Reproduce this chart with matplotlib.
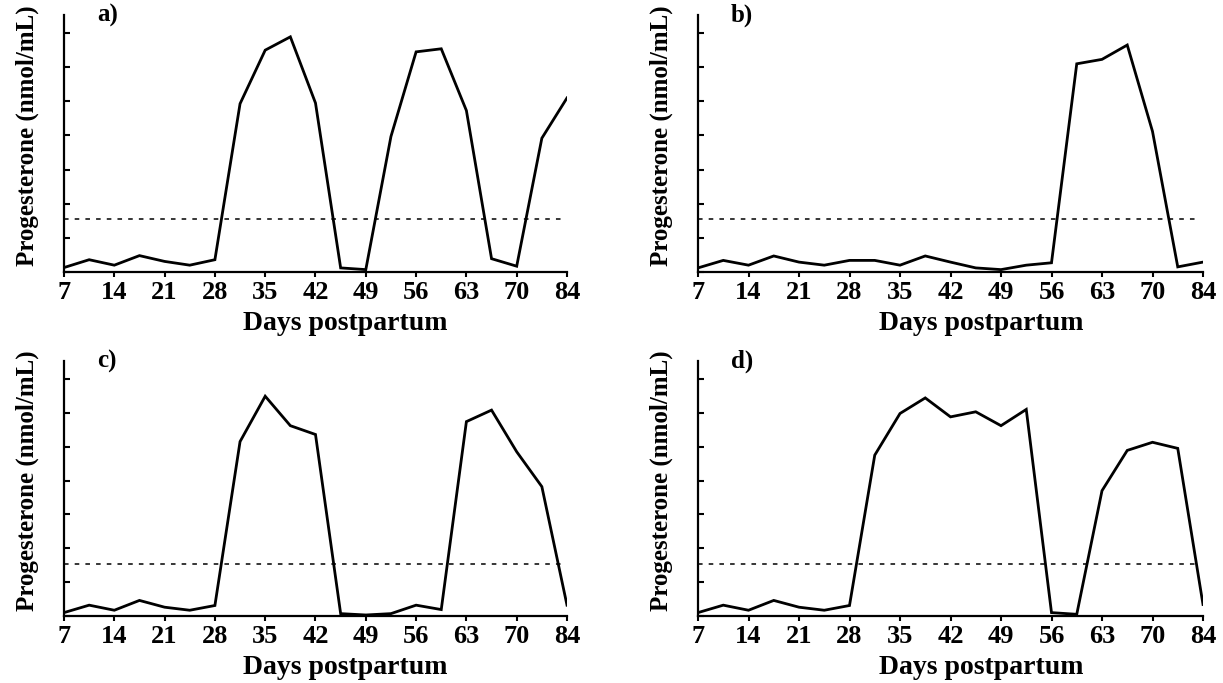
import matplotlib
matplotlib.use("Agg")
import matplotlib.pyplot as plt

plt.rcParams["font.family"] = ["Liberation Serif", "DejaVu Serif"]
plt.rcParams["font.weight"] = "bold"

# sampling days (plotted every 3.5 days; last axis tick is labelled "84")
days = [7, 10.5, 14, 17.5, 21, 24.5, 28, 31.5, 35, 38.5, 42,
        45.5, 49, 52.5, 56, 59.5, 63, 66.5, 70, 73.5, 77]
tick_pos = [7, 14, 21, 28, 35, 42, 49, 56, 63, 70, 77]
tick_lbl = ["7", "14", "21", "28", "35", "42", "49", "56", "63", "70", "84"]
threshold = 1.55

cow_a = [0.13, 0.36, 0.20, 0.48, 0.31, 0.20, 0.36, 4.93, 6.50, 6.89, 4.95,
         0.12, 0.07, 3.97, 6.45, 6.54, 4.73, 0.39, 0.17, 3.92, 5.10]
cow_b = [0.12, 0.34, 0.20, 0.47, 0.29, 0.20, 0.34, 0.34, 0.20, 0.47, 0.29,
         0.12, 0.07, 0.20, 0.27, 6.10, 6.23, 6.65, 4.12, 0.15, 0.29]
cow_c = [0.10, 0.32, 0.17, 0.46, 0.26, 0.17, 0.31, 5.15, 6.49, 5.62, 5.36,
         0.07, 0.03, 0.07, 0.32, 0.19, 5.74, 6.08, 4.85, 3.82, 0.32]
cow_d = [0.10, 0.32, 0.17, 0.46, 0.26, 0.17, 0.31, 4.75, 5.98, 6.44, 5.88,
         6.03, 5.62, 6.10, 0.10, 0.05, 3.70, 4.89, 5.13, 4.95, 0.34]

panels = [("a)", cow_a), ("b)", cow_b), ("c)", cow_c), ("d)", cow_d)]

W, H = 1223, 683
fig = plt.figure(figsize=(W / 100, H / 100), dpi=100)

# axes boxes in pixels: left, right, top, bottom
boxes = [(64, 567, 15, 272), (698, 1203, 15, 272),
         (64, 567, 361, 616), (698, 1203, 361, 616)]

for (tag, vals), (l, r, t, b) in zip(panels, boxes):
    ax = fig.add_axes([l / W, (H - b) / H, (r - l) / W, (b - t) / H])
    ax.plot(days, vals, color="black", lw=2.0, solid_joinstyle="miter")
    ax.plot([7, 76.5], [threshold, threshold], color="black", lw=1.1,
            ls=(0, (3, 4)))
    ax.set_xlim(7, 77)
    ax.set_ylim(0, 7.53)
    for s in ["top", "right"]:
        ax.spines[s].set_visible(False)
    for s in ["left", "bottom"]:
        ax.spines[s].set_linewidth(1.6)
    ax.set_xticks(tick_pos)
    ax.set_xticklabels(tick_lbl)
    ax.set_yticks(range(0, 8))
    ax.set_yticklabels([])
    ax.tick_params(axis="x", direction="out", length=3.5, width=1.5,
                   labelsize=19, pad=3)
    ax.tick_params(axis="y", direction="in", length=4.5, width=1.5)
    ax.set_xlabel("Days postpartum", fontsize=20, fontweight="bold", va="center")
    ax.xaxis.set_label_coords(0.56, -0.2)
    ax.set_ylabel("Progesterone (nmol/mL)", fontsize=18, fontweight="bold",
                  va="center")
    ax.yaxis.set_label_coords(-0.073, 0.53)
    ax.text(33 / (r - l), 1.0, tag, transform=ax.transAxes, fontsize=18,
            fontweight="bold", va="center", ha="left")

fig.savefig("out.png", dpi=100)
